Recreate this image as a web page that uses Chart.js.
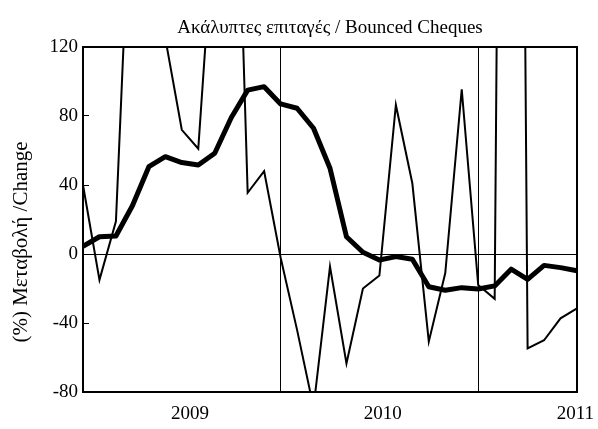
<!DOCTYPE html>
<html><head><meta charset="utf-8">
<script src="https://cdn.jsdelivr.net/npm/chart.js@4.4.1/dist/chart.umd.min.js"></script>
<style>html,body{margin:0;padding:0;background:#fff}canvas{display:block}</style>
</head><body>
<canvas id="c" width="598" height="429"></canvas>
<script>
// ---- data ----
const months = ['06/2008','07/2008','08/2008','09/2008','10/2008','11/2008','12/2008',
  '01/2009','02/2009','03/2009','04/2009','05/2009','06/2009','07/2009','08/2009','09/2009','10/2009','11/2009','12/2009',
  '01/2010','02/2010','03/2010','04/2010','05/2010','06/2010','07/2010','08/2010','09/2010','10/2010','11/2010','12/2010'];
const smoothed = [4.5, 10, 10.4, 28, 50.6, 56.4, 53, 51.6, 58.4, 79, 95, 97, 87, 84.5, 72.9, 49.7,
  10, 1, -3.5, -1.5, -3, -19, -21, -19.5, -20.3, -18.5, -8.8, -14.7, -6.6, -7.9, -9.7];
const monthly = [40, -15, 19, 240, 180, 125, 72, 61, 200, 350, 35.5, 48, -2, -44, -89, -7.3,
  -63.5, -20, -12.5, 86.4, 41, -50.8, -11, 95.5, -18, -26, 1200, -54.7, -50, -37.3, -31.5];
const yearTickValues = [6.5, 18.2, 29.9];
const yearTickLabels = ['2009', '2010', '2011'];
const phaseMarks = [12, 24];
const yMin = -80, yMax = 120, yStep = 40;
const chartTitle = 'Ακάλυπτες επιταγές / Bounced Cheques';
const yAxisTitle = '(%) Μεταβολή /Change';

const FONT = 'Liberation Serif';
const toPoints = arr => arr.map((v, i) => ({x: i, y: v}));

const textPlugin = {
  id: 'texts',
  afterDraw(chart) {
    const {ctx, chartArea: a} = chart;
    ctx.save();
    ctx.fillStyle = '#000';
    ctx.textAlign = 'center';
    ctx.textBaseline = 'middle';
    ctx.font = '19px "' + FONT + '"';
    ctx.fillText(chartTitle, (a.left + a.right) / 2, a.top - 19);
    ctx.translate(a.left - 62, a.top + 195);
    ctx.rotate(-Math.PI / 2);
    ctx.font = '21px "' + FONT + '"';
    ctx.fillText(yAxisTitle, 0, 0);
    ctx.restore();
  }
};

const noPad = s => { s.paddingLeft = 0; s.paddingRight = 0; s.paddingTop = 0; s.paddingBottom = 0; };

new Chart(document.getElementById('c'), {
  type: 'line',
  data: {
    datasets: [
      { label: 'smoothed', data: toPoints(smoothed), borderColor: '#000', borderWidth: 5,
        pointRadius: 0, tension: 0, fill: false, clip: 1, borderJoinStyle: 'round' },
      { label: 'monthly', data: toPoints(monthly), borderColor: '#000', borderWidth: 2,
        pointRadius: 0, tension: 0, fill: false, clip: 1 }
    ]
  },
  options: {
    responsive: false,
    animation: false,
    devicePixelRatio: 1,
    layout: { padding: { top: 47, right: 21, left: 0, bottom: 0 } },
    plugins: { legend: { display: false }, tooltip: { enabled: false }, title: { display: false } },
    scales: {
      x: {
        type: 'linear', position: 'bottom', min: 0, max: months.length - 1,
        afterBuildTicks: s => { s.ticks = yearTickValues.map(v => ({value: v})); },
        afterFit: s => { s.height = 37; noPad(s); },
        ticks: { autoSkip: false, maxRotation: 0, padding: 11, color: '#000',
          font: { family: FONT, size: 19 },
          callback: v => yearTickLabels[yearTickValues.indexOf(v)] },
        grid: { display: false, drawTicks: false },
        border: { display: true, color: '#000', width: 2 }
      },
      xTop: {
        type: 'linear', position: 'top', min: 0, max: months.length - 1,
        afterBuildTicks: s => { s.ticks = phaseMarks.map(v => ({value: v})); },
        afterFit: s => { s.height = 0; noPad(s); },
        ticks: { display: false },
        grid: { display: true, drawTicks: false, color: '#000', lineWidth: 1 },
        border: { display: true, color: '#000', width: 2 }
      },
      y: {
        position: 'left', min: yMin, max: yMax,
        afterFit: s => { s.width = 83; noPad(s); },
        ticks: { stepSize: yStep, padding: 11, color: '#000', font: { family: FONT, size: 19 } },
        grid: { display: true, drawTicks: true, tickLength: -6, tickColor: '#000', tickWidth: 1,
          color: c => (c.tick && c.tick.value === 0) ? '#000' : 'rgba(0,0,0,0)', lineWidth: 1 },
        border: { display: true, color: '#000', width: 2 }
      },
      yRight: {
        position: 'right', min: yMin, max: yMax,
        afterFit: s => { s.width = 0; noPad(s); },
        ticks: { display: false },
        grid: { display: false, drawTicks: false },
        border: { display: true, color: '#000', width: 2 }
      }
    }
  },
  plugins: [textPlugin]
});
</script>
</body></html>
